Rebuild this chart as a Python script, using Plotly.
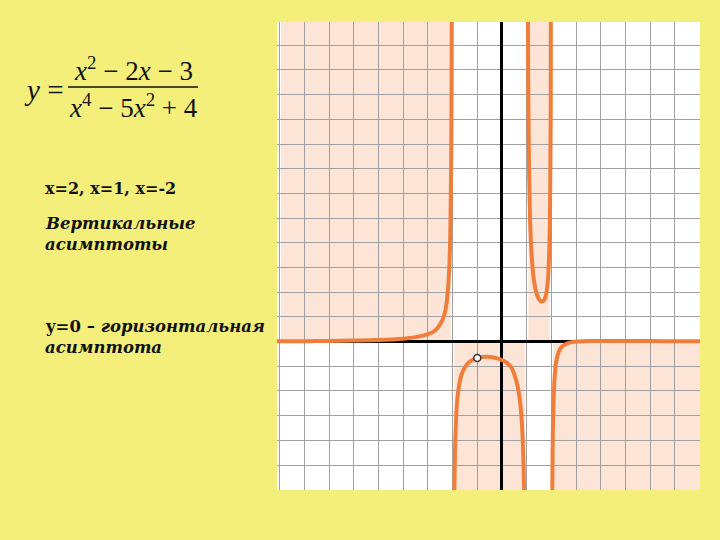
import plotly.graph_objects as go

# ---- data ----
asymptotes_x = [-2, 1, 2]
hole_x = [-1]
hole_y = [-0.667]

b1_x = [-9.2, -8, -7, -6, -5, -4, -3.5, -3, -2.7, -2.5, -2.35, -2.25, -2.18, -2.12, -2.08, -2.05, -2.035, -2.025]
b1_y = [0.014, 0.018, 0.028, 0.042, 0.063, 0.117, 0.18, 0.30, 0.45, 0.70, 1.03, 1.50, 2.20, 3.30, 5.10, 8.2, 11.8, 16.5]

b2_x = [-1.975, -1.96, -1.94, -1.9, -1.85, -1.8, -1.7, -1.6, -1.4, -1.2, -1.0, -0.8, -0.6, -0.4, -0.2, 0.0, 0.2, 0.4, 0.5, 0.6, 0.7, 0.78, 0.84, 0.88, 0.91, 0.93, 0.95]
b2_y = [-17.0, -10.6, -7.1, -4.33, -2.95, -2.26, -1.58, -1.23, -0.90, -0.746, -0.667, -0.628, -0.618, -0.636, -0.68, -0.75, -0.86, -1.08, -1.33, -1.66, -2.18, -2.92, -3.95, -5.20, -6.9, -8.7, -13.2]

b3_x = [1.04, 1.06, 1.08, 1.1, 1.14, 1.2, 1.26, 1.32, 1.4, 1.5, 1.6, 1.7, 1.76, 1.82, 1.87, 1.91, 1.94, 1.96, 1.975, 1.985]
b3_y = [16.9, 11.3, 8.5, 6.81, 4.9, 3.52, 2.78, 2.33, 1.96, 1.714, 1.62, 1.67, 1.80, 2.10, 2.60, 3.50, 4.70, 7.0, 9.4, 17.2]

b4_x = [2.018, 2.025, 2.035, 2.05, 2.08, 2.12, 2.16, 2.2, 2.3, 2.4, 2.5, 2.7, 3.0, 3.5, 4, 5, 6, 7, 8.2]
b4_y = [-13.3, -9.5, -6.6, -4.47, -2.72, -1.68, -1.11, -0.79, -0.417, -0.24, -0.148, -0.053, 0.0, 0.021, 0.028, 0.025, 0.019, 0.015, 0.012]

# sign regions (x0, x1, ybottom, ytop)
x_left, x_right = -8.95, 8.02
y_bottom, y_top = -6.01, 12.94
regions = [
    (x_left, asymptotes_x[0], 0, y_top),
    (asymptotes_x[0], asymptotes_x[1], y_bottom, 0),
    (asymptotes_x[1], asymptotes_x[2], 0, y_top),
    (asymptotes_x[2], x_right, y_bottom, 0),
]

W, H = 720, 540
ML, MR, MT, MB = 277, 20, 22, 50
PW, PH = W - ML - MR, H - MT - MB

def px(xp):
    return (xp - ML) / PW

def py(yp):
    return 1 - (yp - MT) / PH

ORANGE = "#F07E3A"
SHADE = "#FCE5D6"

fig = go.Figure()
for bx, by in [(b1_x, b1_y), (b2_x, b2_y), (b3_x, b3_y), (b4_x, b4_y)]:
    fig.add_trace(go.Scatter(x=bx, y=by, mode="lines",
                             line=dict(color=ORANGE, width=4, shape="spline", smoothing=0.6),
                             hoverinfo="skip", showlegend=False))
fig.add_trace(go.Scatter(x=hole_x, y=hole_y, mode="markers",
                         marker=dict(size=7, color="white", line=dict(color="#333333", width=1.5)),
                         showlegend=False))

for (x0, x1, y0, y1) in regions:
    fig.add_shape(type="rect", x0=x0 + (0.07 if x0 in asymptotes_x else 0),
                  x1=x1 - (0.07 if x1 in asymptotes_x else 0), y0=y0, y1=y1,
                  fillcolor=SHADE, line_width=0, layer="below")

serif = "Liberation Serif"
slab = "DejaVu Serif"
anns = [
    dict(x=px(43), y=py(90), text="<i>y</i> =", font=dict(family=serif, size=29), xanchor="center"),
    dict(x=px(133), y=py(69), text="<i>x</i><sup>2</sup> − 2<i>x</i> − 3", font=dict(family=serif, size=27), xanchor="center"),
    dict(x=px(133), y=py(106), text="<i>x</i><sup>4</sup> − 5<i>x</i><sup>2</sup> + 4", font=dict(family=serif, size=27), xanchor="center"),
    dict(x=px(43), y=py(188), text="<b>x=2, x=1, x=-2</b>", font=dict(family=slab, size=16), xanchor="left"),
    dict(x=px(43), y=py(223), text="<b><i>Вертикальные</i></b>", font=dict(family=slab, size=16.5), xanchor="left"),
    dict(x=px(43), y=py(244), text="<b><i>асимптоты</i></b>", font=dict(family=slab, size=16.5), xanchor="left"),
    dict(x=px(43), y=py(326), text="<b>y=0 – <i>горизонтальная</i></b>", font=dict(family=slab, size=16.5), xanchor="left"),
    dict(x=px(43), y=py(347), text="<b><i>асимптота</i></b>", font=dict(family=slab, size=16.5), xanchor="left"),
]
for a in anns:
    a.update(xref="paper", yref="paper", yanchor="middle", showarrow=False)
    a["font"]["color"] = "#111111"
fig.update_layout(annotations=anns)
fig.add_shape(type="line", xref="paper", yref="paper", x0=px(68), x1=px(198), y0=py(87), y1=py(87),
              line=dict(color="#111111", width=1.5))

fig.update_xaxes(range=[-9.11, x_right], dtick=1, tick0=0, showgrid=True, gridcolor="#A0A0A0", gridwidth=1,
                 zeroline=True, zerolinecolor="black", zerolinewidth=3, showticklabels=False, ticks="",
                 showline=False, fixedrange=True)
fig.update_yaxes(range=[y_bottom, y_top], dtick=1, tick0=0, showgrid=True, gridcolor="#A0A0A0", gridwidth=1,
                 zeroline=True, zerolinecolor="black", zerolinewidth=3, showticklabels=False, ticks="",
                 showline=False, fixedrange=True)
fig.update_layout(width=W, height=H, margin=dict(l=ML, r=MR, t=MT, b=MB),
                  paper_bgcolor="#F4EF7A", plot_bgcolor="white", showlegend=False)
fig.write_html("out.html", config={"displayModeBar": False},
               post_script="document.body.style.margin='0';document.body.style.overflow='hidden';")
